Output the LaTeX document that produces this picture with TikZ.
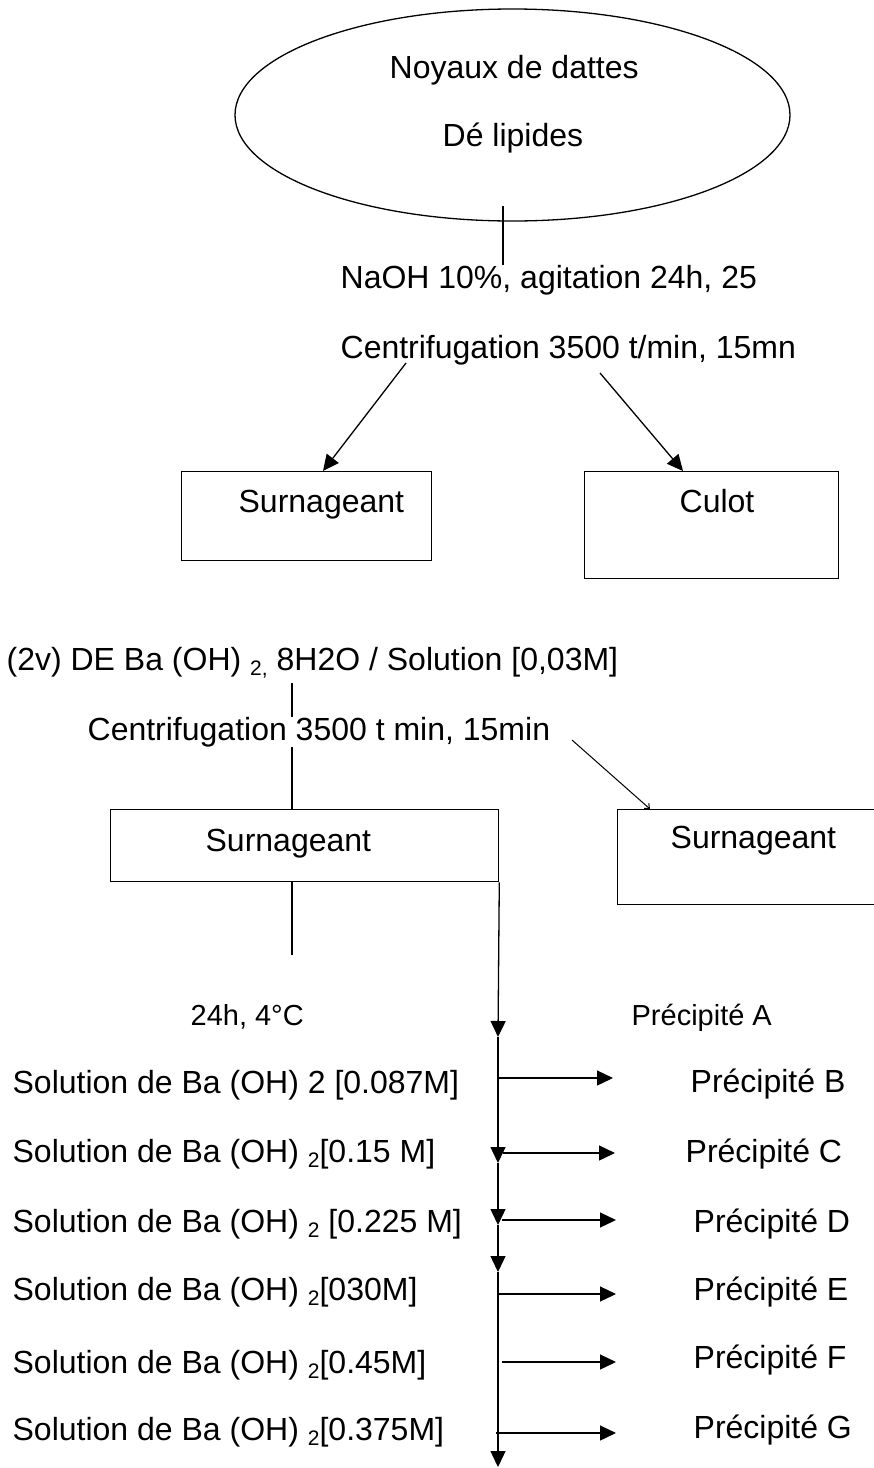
\documentclass[tikz,border=0pt]{standalone}
\usepackage{fontspec}
\setmainfont{Liberation Sans}
\usetikzlibrary{arrows.meta,shapes.geometric}
\newcommand{\sbs}[1]{\raisebox{-5pt}{\fontsize{21}{24}\selectfont #1}}
\begin{document}
\begin{tikzpicture}[x=1pt,y=-1pt,line width=1.3pt,
  txt/.style={anchor=base west,inner sep=0pt,font=\fontsize{32}{38}\selectfont},
  smalltxt/.style={anchor=base west,inner sep=0pt,font=\fontsize{29}{35}\selectfont},
  boxnode/.style={draw,line width=1.3pt,inner sep=0pt,anchor=north west},
  arr/.style={-{Triangle[length=16pt,width=15pt]}},
  tinyarr/.style={-{Straight Barb[length=4pt,width=7pt]}}]
\useasboundingbox (0,0) rectangle (874,1468);
\fill[white] (0,0) rectangle (874,1468);

% top ellipse
\node[draw,ellipse,minimum width=555,minimum height=212,inner sep=0pt] (ell) at (512.5,115) {};
\node[txt] (noy) at (389,78) {Noyaux de dattes};
\node[txt] (dl) at (442,146) {Dé lipides};
\coordinate (e1) at (503,206);
\coordinate (e2) at (503,265);
\draw (e1) -- (e2);

\node[txt] (naoh) at (340,288) {NaOH 10\%, agitation 24h, 25};
\node[txt] (cen1) at (340,358) {Centrifugation 3500 t/min, 15mn};

% boxes first stage
\node[boxnode,minimum width=250,minimum height=89] (s1) at (181,471) {};
\node[txt] (s1t) at (238,512) {Surnageant};
\node[boxnode,minimum width=254,minimum height=107] (cul) at (584,471) {};
\node[txt] (cult) at (679,512) {Culot};
\coordinate (a1) at (406,363);
\coordinate (a2) at (600,373);
\draw[arr] (a1) -- (s1.north west -| 323,0);
\draw[arr] (a2) -- (cul.north west -| 683,0);

% second stage
\node[txt] (ba) at (6,670) {(2v) DE Ba (OH) \sbs{2,} 8H2O / Solution [0,03M]};
\coordinate (b1) at (292,683);
\node[boxnode,minimum width=388,minimum height=72] (s2) at (110,809) {};
\draw (b1) -- (s2.north -| b1);
\node[txt,fill=white] (cen2) at (87,740) {Centrifugation 3500 t min, 15min};
\node[txt] (s2t) at (205,851) {Surnageant};
\node[boxnode,minimum width=300,minimum height=95] (s3) at (617,809) {};
\node[txt] (s3t) at (670,848) {Surnageant};
\coordinate (d1) at (572,740);
\draw[tinyarr,line width=1pt] (d1) -- (s3.north west -| 650,0);
\coordinate (b2) at (292,955);
\draw (s2.south -| b2) -- (b2);

\node[smalltxt] (t24) at (190,1025) {24h, 4°C};
\node[smalltxt] (pa) at (631,1025) {Précipité A};

\node[txt] (sol1) at (12,1093) {Solution de Ba (OH) 2 [0.087M]};
\node[txt] (sol2) at (12,1162) {Solution de Ba (OH) \sbs{2}[0.15 M]};
\node[txt] (sol3) at (12,1232) {Solution de Ba (OH) \sbs{2} [0.225 M]};
\node[txt] (sol4) at (12,1300) {Solution de Ba (OH) \sbs{2}[030M]};
\node[txt] (sol5) at (12,1373) {Solution de Ba (OH) \sbs{2}[0.45M]};
\node[txt] (sol6) at (12,1440) {Solution de Ba (OH) \sbs{2}[0.375M]};

\node[txt] (pb) at (690,1092) {Précipité B};
\node[txt] (pc) at (685,1162) {Précipité C};
\node[txt] (pd) at (693,1232) {Précipité D};
\node[txt] (pe) at (693,1300) {Précipité E};
\node[txt] (pf) at (693,1368) {Précipité F};
\node[txt] (pg) at (693,1438) {Précipité G};

% main vertical line
\coordinate (v1) at (498,1037);
\coordinate (v2) at (498,1163);
\coordinate (v3) at (498,1225);
\coordinate (v4) at (498,1272);
\coordinate (v5) at (498,1467);
\draw[arr] (s2.south east) -- (v1);
\draw[arr] (v1) -- (v2);
\draw[arr] (v2) -- (v3);
\draw[arr] (v3) -- (v4);
\draw[arr] (v4) -- (v5);

% horizontal arrows
\coordinate (hb) at (498,1078);
\coordinate (hc) at (503,1153);
\coordinate (hd) at (502,1220);
\coordinate (he) at (498,1294);
\coordinate (hf) at (502,1362);
\coordinate (hg) at (496,1433);
\coordinate (hb2) at (613,1078);
\coordinate (hc2) at (615,1153);
\coordinate (hd2) at (616,1220);
\coordinate (he2) at (616,1294);
\coordinate (hf2) at (616,1362);
\coordinate (hg2) at (616,1433);
\draw[arr] (hb) -- (hb2);
\draw[arr] (hc) -- (hc2);
\draw[arr] (hd) -- (hd2);
\draw[arr] (he) -- (he2);
\draw[arr] (hf) -- (hf2);
\draw[arr] (hg) -- (hg2);
\end{tikzpicture}
\end{document}
